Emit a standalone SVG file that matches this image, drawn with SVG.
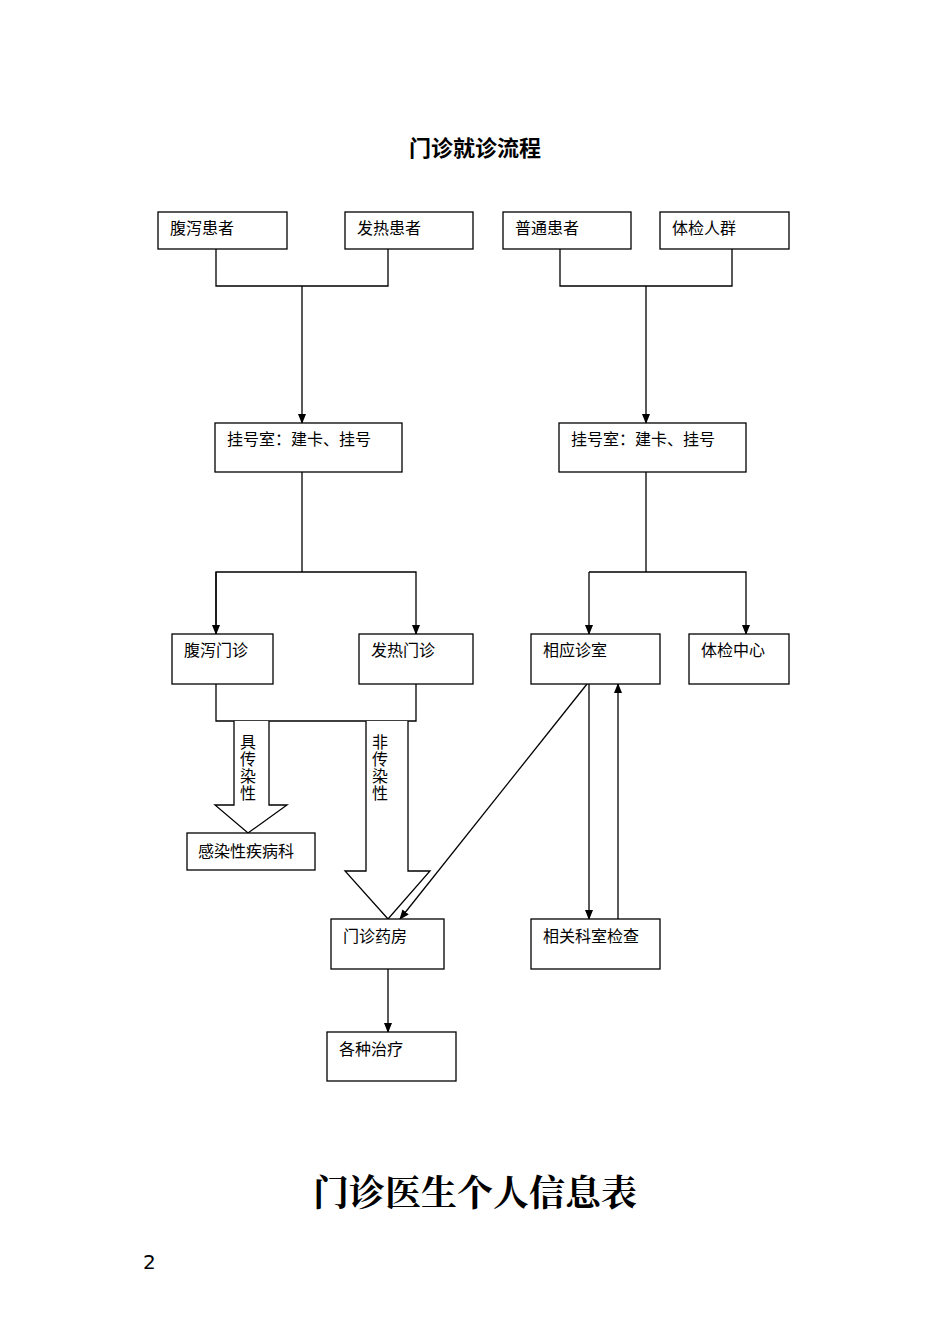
<svg xmlns="http://www.w3.org/2000/svg" width="950" height="1344" viewBox="0 0 950 1344">
<style>
.b{fill:#fff;stroke:#000;stroke-width:1.3}
.t{font-family:"Liberation Serif","Noto Sans CJK SC",serif;font-size:16px;fill:#000}
.l{stroke:#000;stroke-width:1.3;fill:none}
.ba{fill:#fff;stroke:#000;stroke-width:1.3}
</style>
<defs><marker id="a" markerWidth="10" markerHeight="10" refX="9" refY="5" orient="auto" markerUnits="userSpaceOnUse"><path d="M0,1 L10,5 L0,9 z" fill="#000"/></marker></defs>
<rect width="950" height="1344" fill="#fff"/>
<text x="475" y="156" text-anchor="middle" style="font-family:'Noto Sans CJK SC',sans-serif;font-size:22px;font-weight:bold">门诊就诊流程</text>
<g id="connectors">
<path class="l" d="M216,249V286H388V249M302,286V423" marker-end="url(#a)"/>
<path class="l" d="M560,249V286H732V249M646,286V423" marker-end="url(#a)"/>
<path class="l" d="M302,472V572"/>
<path class="l" d="M216,634V572H416V634" marker-end="url(#a)"/>
<path class="l" d="M216,572V634" marker-end="url(#a)"/>
<path class="l" d="M646,472V572"/>
<path class="l" d="M589,572H746V634" marker-end="url(#a)"/>
<path class="l" d="M589,572V634" marker-end="url(#a)"/>
<path class="l" d="M216,684V721H416V684"/>
<path class="ba" d="M234,721V805H215L248,833L287,805H269V721"/>
<path class="ba" d="M366,721V871H345L388,919L430,871H408V721"/>
<path class="l" d="M587,684L400,919" marker-end="url(#a)"/>
<path class="l" d="M589,684V919" marker-end="url(#a)"/>
<path class="l" d="M618,919V684" marker-end="url(#a)"/>
<path class="l" d="M388,969V1032" marker-end="url(#a)"/>
<text class="t" x="240" y="748">具</text><text class="t" x="240" y="765">传</text><text class="t" x="240" y="782">染</text><text class="t" x="240" y="799">性</text>
<text class="t" x="372" y="748">非</text><text class="t" x="372" y="765">传</text><text class="t" x="372" y="782">染</text><text class="t" x="372" y="799">性</text>
</g>
<g id="n1"><rect class="b" x="158" y="212" width="129" height="37"/><text class="t" x="170" y="234">腹泻患者</text></g>
<g id="n2"><rect class="b" x="345" y="212" width="128" height="37"/><text class="t" x="357" y="234">发热患者</text></g>
<g id="n3"><rect class="b" x="503" y="212" width="128" height="37"/><text class="t" x="515" y="234">普通患者</text></g>
<g id="n4"><rect class="b" x="660" y="212" width="129" height="37"/><text class="t" x="672" y="234">体检人群</text></g>
<g id="n5"><rect class="b" x="215" y="423" width="187" height="49"/><text class="t" x="227" y="445">挂号室：建卡、挂号</text></g>
<g id="n6"><rect class="b" x="559" y="423" width="187" height="49"/><text class="t" x="571" y="445">挂号室：建卡、挂号</text></g>
<g id="n7"><rect class="b" x="172" y="634" width="101" height="50"/><text class="t" x="184" y="656">腹泻门诊</text></g>
<g id="n8"><rect class="b" x="359" y="634" width="114" height="50"/><text class="t" x="371" y="656">发热门诊</text></g>
<g id="n9"><rect class="b" x="531" y="634" width="129" height="50"/><text class="t" x="543" y="656">相应诊室</text></g>
<g id="n10"><rect class="b" x="689" y="634" width="100" height="50"/><text class="t" x="701" y="656">体检中心</text></g>
<g id="n11"><rect class="b" x="187" y="833" width="128" height="37"/><text class="t" x="198" y="857">感染性疾病科</text></g>
<g id="n12"><rect class="b" x="331" y="919" width="113" height="50"/><text class="t" x="343" y="942">门诊药房</text></g>
<g id="n13"><rect class="b" x="531" y="919" width="129" height="50"/><text class="t" x="543" y="942">相关科室检查</text></g>
<g id="n14"><rect class="b" x="327" y="1032" width="129" height="49"/><text class="t" x="339" y="1055">各种治疗</text></g>
<text x="475" y="1206" text-anchor="middle" style="font-family:'Noto Serif CJK SC','Noto Sans CJK SC',serif;font-size:36px;font-weight:bold">门诊医生个人信息表</text>
<text x="143" y="1269" style="font-family:'DejaVu Sans',sans-serif;font-size:20px">2</text>
</svg>
